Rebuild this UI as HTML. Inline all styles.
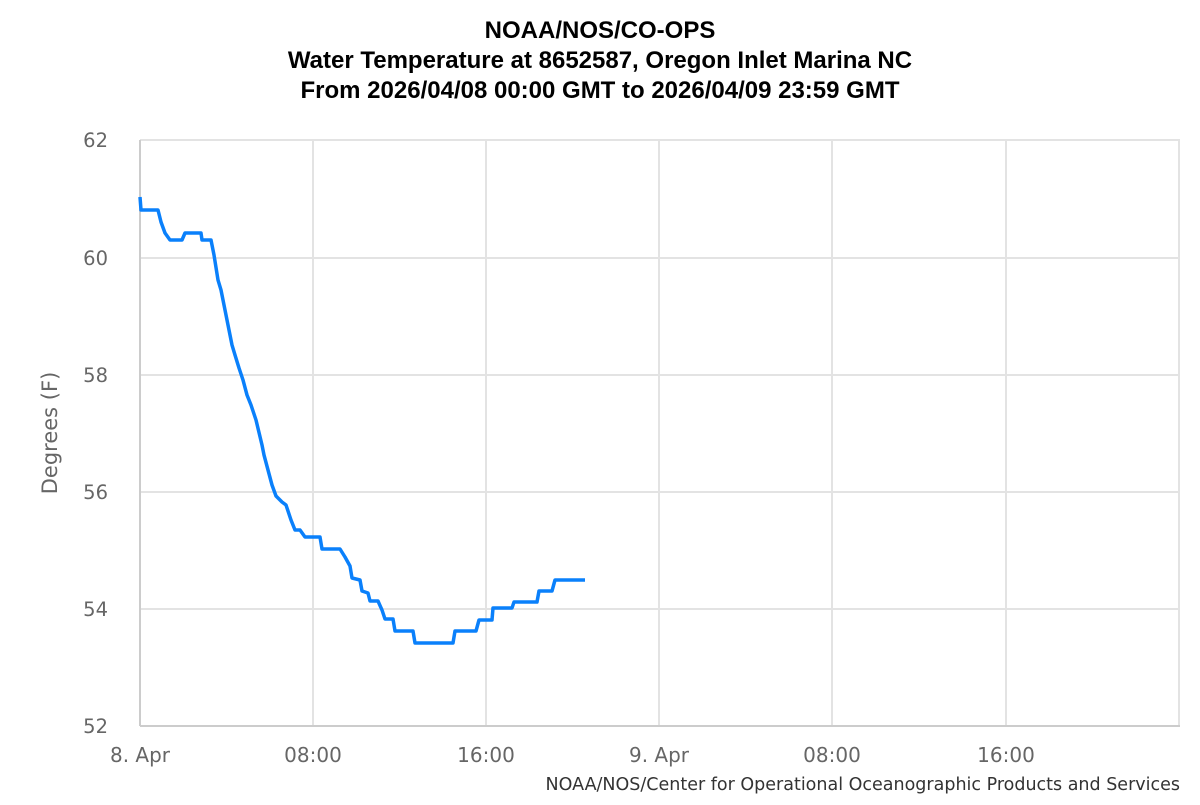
<!DOCTYPE html>
<html><head><meta charset="utf-8"><style>
body{margin:0;background:#fff;width:1200px;height:800px;overflow:hidden;font-family:"Liberation Sans",sans-serif}
</style></head><body>
<svg width="1200" height="800" xmlns="http://www.w3.org/2000/svg" font-family="Liberation Sans, sans-serif">
<rect width="1200" height="800" fill="#fff"/>
<g text-anchor="middle" font-weight="bold" font-size="24" fill="#000">
<text x="600" y="38">NOAA/NOS/CO-OPS</text>
<text x="600" y="68">Water Temperature at 8652587, Oregon Inlet Marina NC</text>
<text x="600" y="98">From 2026/04/08 00:00 GMT to 2026/04/09 23:59 GMT</text>
</g>
<g stroke="#e3e3e3" stroke-width="2">
<line x1="140" y1="140" x2="1180" y2="140"/>
<line x1="140" y1="258" x2="1180" y2="258"/>
<line x1="140" y1="375" x2="1180" y2="375"/>
<line x1="140" y1="492" x2="1180" y2="492"/>
<line x1="140" y1="609" x2="1180" y2="609"/>
<line x1="313" y1="140" x2="313" y2="726"/>
<line x1="486" y1="140" x2="486" y2="726"/>
<line x1="659" y1="140" x2="659" y2="726"/>
<line x1="832" y1="140" x2="832" y2="726"/>
<line x1="1006" y1="140" x2="1006" y2="726"/>
<line x1="1179" y1="140" x2="1179" y2="726"/>
</g>
<line x1="140" y1="726" x2="1180" y2="726" stroke="#ccc" stroke-width="2"/>
<line x1="140" y1="140" x2="140" y2="726" stroke="#ccc" stroke-width="2"/>
<g font-family="DejaVu Sans, sans-serif" font-size="19.5" fill="#666" text-anchor="end">
<text x="108" y="147">62</text><text x="108" y="265">60</text><text x="108" y="382">58</text>
<text x="108" y="499">56</text><text x="108" y="616">54</text><text x="108" y="733">52</text>
</g>
<g font-family="DejaVu Sans, sans-serif" font-size="20" fill="#666" text-anchor="middle">
<text x="140" y="762">8. Apr</text><text x="313" y="762">08:00</text><text x="486" y="762">16:00</text>
<text x="659" y="762">9. Apr</text><text x="832" y="762">08:00</text><text x="1006" y="762">16:00</text>
</g>
<text transform="translate(57,433) rotate(-90)" font-family="DejaVu Sans, sans-serif" font-size="21" fill="#666" text-anchor="middle">Degrees (F)</text>
<text x="1180" y="790" font-family="DejaVu Sans, sans-serif" font-size="17.5" fill="#333" text-anchor="end">NOAA/NOS/Center for Operational Oceanographic Products and Services</text>
<polyline fill="none" stroke="#0a80fb" stroke-width="3.5" stroke-linejoin="round" points="140,197 141,210 158,210 161,222 165,233 170,240 182,240 185,233 201,233 202,240 211,240 214,255 218,280 221,290 226,315 229,330 232,345 235,355 239,368 243,380 247,395 251,405 256,420 262,445 264,455 268,470 272,485 276,496 282,502 286,505 291,520 295,530 300,530 305,537 320,537 322,549 340,549 345,557 350,566 352,578 360,580 362,591 368,593 370,601 378,601 382,610 385,619 393,619 395,631 413,631 415,643 453,643 455,631 476,631 479,620 492,620 493,608 512,608 514,602 537,602 539,591 552,591 555,580 585,580"/>
</svg>
</body></html>
